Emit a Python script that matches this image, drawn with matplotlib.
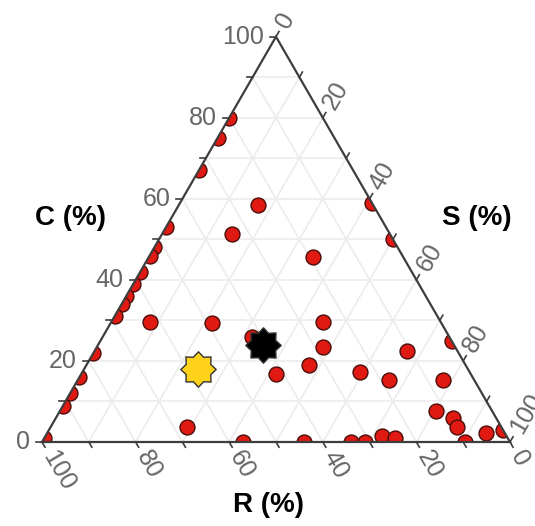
import numpy as np
import matplotlib
matplotlib.use("Agg")
import matplotlib.pyplot as plt
from matplotlib.patches import Polygon
from matplotlib.path import Path

plt.rcParams['font.family'] = ['Liberation Sans', 'DejaVu Sans']

# ternary data (R, C, S in %) for the samples
R = [20, 25, 33, 47, 52, 54, 58, 61, 64, 66, 69, 78, 84, 88, 91, 99,
     0, 0, 0, 0,
     57, 44, 34, 31, 26.5, 24, 9.6, 4,
     24.6, 33.7, 19.2, 49, 25.2, 62.1, 42.2, 28.2, 33.4, 41.6, 67.2,
     23.4, 18.2, 10.8, 6.7, 12, 9.2, 9.5]
C = [80, 75, 67, 53, 48, 46, 42, 39, 36, 34, 31, 22, 16, 12, 9, 1,
     59, 50, 25, 3,
     0, 0, 0, 0, 1.5, 1, 0, 2.2,
     58.5, 51.4, 45.7, 29.4, 29.6, 29.6, 25.9, 23.5, 19, 16.8, 3.7,
     17.3, 15.3, 22.5, 15.3, 7.7, 5.9, 3.7]
S = [100 - r - c for r, c in zip(R, C)]

# reference compositions (stars)
star_R = [40.8, 57.7]
star_C = [24, 18]
star_S = [35.2, 24.3]
star_colors = ['black', '#ffd21a']

ticks = [0, 20, 40, 60, 80, 100]
labels = ['R (%)', 'C (%)', 'S (%)']

SQ = np.sqrt(3) / 2
PX = 1 / 468.0  # one pixel in data units


def tern(r, c, s):
    r, c, s = np.asarray(r, float), np.asarray(c, float), np.asarray(s, float)
    tot = r + c + s
    return (s + c / 2) / tot, c / tot * SQ


fig = plt.figure(figsize=(5.35, 5.26), dpi=100)
ax = fig.add_axes([0, 0, 1, 1])
ax.set_xlim(-42 * PX, 493 * PX)
ax.set_ylim(-84 * PX, 442 * PX)
ax.set_aspect('equal')
ax.axis('off')

# grid
grid_kw = dict(color='#ececec', lw=1.2, zorder=1)
for v in range(10, 100, 10):
    x, y = tern([100 - v, 0], [v, v], [0, 100 - v])
    ax.plot(x, y, **grid_kw)
    x, y = tern([100 - v, 0], [0, 100 - v], [v, v])
    ax.plot(x, y, **grid_kw)
    x, y = tern([v, v], [100 - v, 0], [0, 100 - v])
    ax.plot(x, y, **grid_kw)

tri = Polygon([[0, 0], [1, 0], [0.5, SQ]], closed=True, fill=False,
              edgecolor='#3d3d3d', lw=1.6, zorder=5, joinstyle='miter')
ax.add_patch(tri)

# samples clipped to the triangle
sc = ax.scatter(*tern(R, C, S), s=115, c='#e01a12', edgecolors='#4a0c08',
                linewidths=1.0, zorder=3)
sc.set_clip_path(tri)

star = Path.unit_regular_star(8, 0.75)
for r, c, s, col in zip(star_R, star_C, star_S, star_colors):
    ax.scatter(*tern([r], [c], [s]), s=650, marker=star, c=col,
               edgecolors='#333333', linewidths=1.0, zorder=4)

# ticks and tick labels
tl = 6 * PX
off = 12 * PX
lab_kw = dict(fontsize=18, color='#666666')
d_left = np.array([-1.0, 0.0])
d_right = np.array([0.5, SQ])
d_bot = np.array([0.5, -SQ])
for v in range(0, 101, 10):
    # C axis (left)
    p = np.array(tern(100 - v, v, 0))
    ax.plot(*zip(p, p + d_left * tl), color='#3d3d3d', lw=1.2, zorder=5)
    if v in ticks:
        q = p + d_left * off
        ax.text(q[0], q[1], str(v), ha='right', va='center', **lab_kw)
    # S axis (right)
    p = np.array(tern(0, 100 - v, v))
    ax.plot(*zip(p, p + d_right * tl), color='#3d3d3d', lw=1.2, zorder=5)
    if v in ticks:
        q = p + d_right * off
        ax.text(q[0], q[1], str(v), ha='left', va='center', rotation=60,
                rotation_mode='anchor', **lab_kw)
    # R axis (bottom)
    p = np.array(tern(v, 0, 100 - v))
    ax.plot(*zip(p, p + d_bot * tl), color='#3d3d3d', lw=1.2, zorder=5)
    if v in ticks:
        q = p + d_bot * off
        ax.text(q[0], q[1], str(v), ha='left', va='center', rotation=-60,
                rotation_mode='anchor', **lab_kw)

title_kw = dict(fontsize=20, fontweight='bold', ha='center', va='center')
ax.text(268 * PX - 42 * PX, 21 * PX - 84 * PX, labels[0], **title_kw)
ax.text(70 * PX - 42 * PX, 308 * PX - 84 * PX, labels[1], **title_kw)
ax.text(477 * PX - 42 * PX, 308 * PX - 84 * PX, labels[2], **title_kw)

fig.savefig('out.png', dpi=100)
